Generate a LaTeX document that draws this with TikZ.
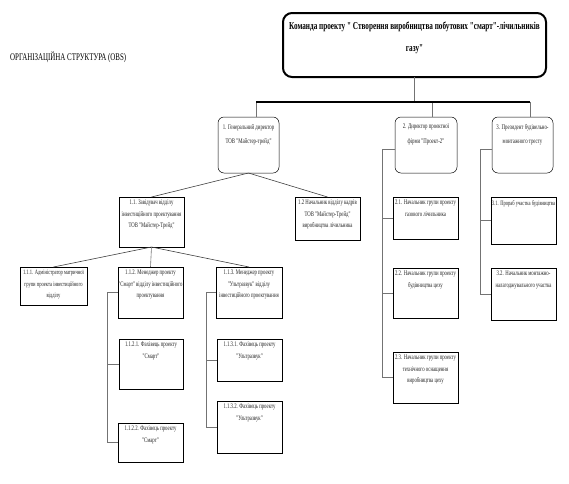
\documentclass[tikz,border=0pt]{standalone}
\usepackage{fontspec}
\setmainfont{Liberation Serif}
\newfontfamily\dfont[FakeStretch=0.68]{Liberation Serif}
\begin{document}
\begin{tikzpicture}[x=1pt,y=-1pt,
  box/.style={draw=black, line width=0.5pt, fill=white, inner sep=0pt, outer sep=0pt},
  rbox/.style={box, rounded corners=6pt},
  txt/.style={align=center, inner sep=1pt, font={\dfont\fontsize{7}{11.5}\selectfont}, text=black!85},
  txtsm/.style={txt, font={\dfont\fontsize{6.7}{11.5}\selectfont}},
  txtone/.style={align=center, inner sep=1pt, yshift=-4pt, font={\dfont\fontsize{7.1}{14.5}\selectfont}, text=black!85},
  titlebox/.style={draw=black, line width=2pt, rounded corners=9pt, inner sep=0pt, outer sep=0pt},
  bar/.style={draw=black, line width=1.1pt},
  gline/.style={draw=black!55, line width=0.6pt},
  dline/.style={draw=black!75, line width=0.6pt}]
\useasboundingbox (0,0) rectangle (569,483);
% box macro: name, x1, y1, x2, y2, style, text style, text
\newcommand\obx[8]{%
  \node[#6, minimum width={(#4-#2)*1pt}, minimum height={(#5-#3)*1pt}, anchor=north west] (#1) at (#2,#3) {};
  \node[#7, anchor=north] (#1t) at ([yshift=-2pt]#1.north) {#8};}

% title
\node[titlebox, minimum width=263pt, minimum height=64pt, anchor=north west] (title) at (283,13) {};
\node[align=center, inner sep=0pt, anchor=north, font={\dfont\bfseries\fontsize{10.6}{22}\selectfont}] (titlet) at ([yshift=-9pt]title.north)
  {Команда проекту " Створення виробництва побутових "смарт"-лічильників\\газу"};
\node[anchor=west, inner sep=0pt, font={\dfont\fontsize{10.2}{11}\selectfont}] (obs) at (10,57) {ОРГАНІЗАЦІЙНА СТРУКТУРА (OBS)};

% level 1
\obx{b1}{218}{117}{279}{173}{rbox}{txtone}{1. Генеральний директор\\ТОВ "Майстер-трейд"}
\obx{b2}{395}{117}{457}{173}{rbox}{txtone}{2. Директор проектної\\фірми "Проект-2"}
\obx{b3}{492}{117}{553}{173}{rbox}{txtone}{3. Президент будівельно-\\монтажного тресту}

% level 2
\obx{b11}{119}{197}{184}{247}{box}{txt}{1.1. Завідувач відділу\\інвестиційного проектування\\ТОВ "Майстер-Трейд"}
\obx{b12}{295}{197}{360}{240}{box}{txt}{1.2 Начальник відділу кадрів\\ТОВ "Майстер-Трейд"\\виробництва лічильника}
\obx{b21}{393}{197}{458}{239}{box}{txt}{2.1. Начальник групи проекту\\газового лічильника}
\obx{b22}{393}{268}{458}{318}{box}{txt}{2.2. Начальник групи проекту\\будівництва цеху}
\obx{b23}{393}{352}{458}{403}{box}{txt}{2.3. Начальник групи проекту\\технічного оснащення\\виробництва цеху}
\obx{b31}{491}{197}{556}{244}{box}{txtsm}{3.1. Прораб участка будівництва}
\obx{b32}{491}{268}{556}{320}{box}{txt}{3.2. Начальник монтажно-\\налагоджувального участка}

% level 3
\obx{b111}{20}{267}{87}{305}{box}{txtsm}{1.1.1. Адміністратор матричної\\групи проекта інвестиційного\\відділу}
\obx{b112}{118}{267}{183}{318}{box}{txt}{1.1.2. Менеджер проекту\\"Смарт" відділу інвестиційного\\проектування}
\obx{b113}{216}{267}{282}{318}{box}{txt}{1.1.3. Менеджер проекту\\"Ультразвук" відділу\\інвестиційного проектування}

% level 4
\obx{b1121}{119}{339}{183}{389}{box}{txt}{1.1.2.1. Фахівець проекту\\"Смарт"}
\obx{b1122}{118}{423}{183}{462}{box}{txt}{1.1.2.2. Фахівець проекту\\"Смарт"}
\obx{b1131}{217}{339}{282}{381}{box}{txt}{1.1.3.1. Фахівець проекту\\"Ультразвук"}
\obx{b1132}{217}{401}{282}{453}{box}{txt}{1.1.3.2. Фахівець проекту\\"Ультразвук"}

% connectors: top
\coordinate (barL) at (256,102);
\coordinate (barR) at (530,102);
\coordinate (bar2) at (432,102);
\draw[gline] (title.south) -- (title.south |- barL);
\draw[gline] (barL) -- (barL |- b1.north);
\draw[gline] (bar2) -- (bar2 |- b2.north);
\draw[gline] (barR) -- (barR |- b3.north);
\draw[bar] (barL) -- (barR);

% from 1
\draw[dline] (b1.south) -- (b11.north);
\draw[dline] (b1.south) -- (b12.north);

% from 2
\coordinate (v2) at (382,149);
\draw[gline] (b2.west |- v2) -- (v2) -- (v2 |- b23.west) -- (b23.west);
\draw[gline] (v2 |- b21.west) -- (b21.west);
\draw[gline] (v2 |- b22.west) -- (b22.west);

% from 3
\coordinate (v3) at (480,149);
\draw[gline] (b3.west |- v3) -- (v3) -- (v3 |- b32.west) -- (b32.west);
\draw[gline] (v3 |- b31.west) -- (b31.west);

% from 1.1
\draw[dline] (b11.south) -- (b111.north);
\draw[gline] (b11.south) -- (b112.north);
\draw[dline] (b11.south) -- (b113.north);

% from 1.1.2
\coordinate (v112) at (107,292);
\draw[gline] (b112.west |- v112) -- (v112) -- (v112 |- b1122.west) -- (b1122.west);
\draw[gline] (v112 |- b1121.west) -- (b1121.west);

% from 1.1.3
\coordinate (v113) at (206,292);
\draw[gline] (b113.west |- v113) -- (v113) -- (v113 |- b1132.west) -- (b1132.west);
\draw[gline] (v113 |- b1131.west) -- (b1131.west);
\end{tikzpicture}
\end{document}
